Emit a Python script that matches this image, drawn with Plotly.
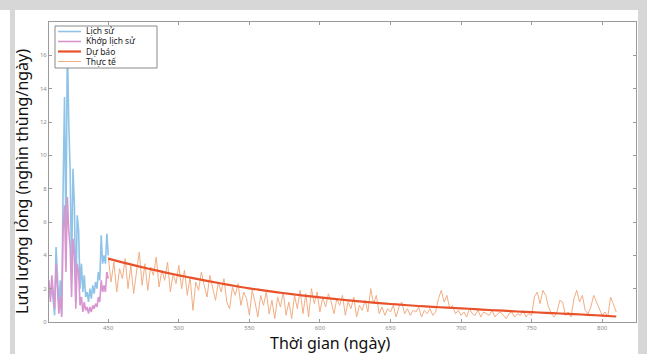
import plotly.graph_objects as go

# ---------------- data ----------------
hist_days = list(range(408, 451))
hist_vals = [2.0, 1.5, 2.2, 1.0, 0.4, 4.5, 3.0, 1.0, 2.5, 0.5,
             8.0, 13.5, 5.0, 17.0, 12.0, 9.0, 3.0, 9.2, 7.0, 1.2,
             6.4, 5.5, 2.0, 3.5, 1.8, 2.8, 1.5, 1.8, 1.2, 2.0,
             1.4, 2.2, 1.7, 2.4, 2.0, 3.0, 2.5, 5.2, 3.5, 4.0,
             3.5, 5.3, 4.0]
fit_vals = [2.5, 1.2, 2.8, 1.5, 0.8, 3.5, 2.0, 0.5, 1.5, 0.3,
            5.5, 7.0, 3.0, 7.5, 5.5, 4.5, 1.5, 5.0, 4.0, 0.8,
            3.5, 3.0, 1.0, 1.5, 0.6, 1.2, 0.7, 0.9, 0.5, 0.9,
            0.6, 1.0, 0.8, 1.1, 0.9, 1.5, 1.2, 2.5, 1.8, 2.2,
            1.8, 3.0, 2.6]

fc_days = list(range(450, 811, 10))
fc_vals = [3.80, 3.58, 3.37, 3.17, 2.98, 2.80, 2.63, 2.47, 2.31, 2.16,
           2.02, 1.90, 1.78, 1.67, 1.57, 1.48, 1.39, 1.30, 1.22, 1.15,
           1.08, 1.02, 0.96, 0.91, 0.86, 0.82, 0.77, 0.72, 0.68, 0.63,
           0.59, 0.55, 0.51, 0.47, 0.43, 0.38, 0.33]

act_days = list(range(450, 811, 2))
act_vals = [3.9, 2.4, 3.6, 1.8, 3.2, 2.6, 3.8, 2.0, 3.4, 1.7,
            3.0, 4.2, 2.2, 3.5, 1.9, 3.3, 2.8, 3.9, 2.1, 3.1,
            2.5, 3.6, 1.8, 2.9, 2.3, 3.4, 2.0, 3.1, 1.6, 2.7,
            0.7, 2.4, 1.9, 3.0, 2.2, 1.5, 2.8, 2.0, 1.3, 2.4,
            1.8, 2.6, 1.2, 0.8, 2.1, 1.6, 2.3, 1.0, 1.8, 1.4,
            0.4, 1.9, 1.2, 0.3, 1.6, 1.0, 1.8, 0.5, 1.3, 0.2,
            1.5, 0.9, 1.8, 0.4, 1.2, 0.2, 1.6, 0.8, 1.9, 0.5,
            1.7, 0.3, 2.0, 1.1, 1.8, 0.6, 1.5, 0.9, 1.7, 1.2,
            0.5, 1.4, 1.0, 1.6, 0.4, 1.2, 0.8, 1.5, 0.3, 1.0,
            0.7, 1.3, 0.6, 2.0, 1.1, 1.6, 0.5, 0.9, 0.4, 0.8,
            0.6, 1.0, 0.3, 0.9, 1.2, 0.5, 0.8, 0.4, 0.7, 0.6,
            0.9, 0.3, 0.7, 0.5, 0.8, 0.4, 0.6, 1.4, 1.9, 1.2,
            1.6, 0.8, 1.0, 0.5, 0.7, 0.4, 0.6, 0.3, 0.8, 0.5,
            0.4, 0.7, 0.3, 0.6, 0.5, 0.4, 0.7, 0.3, 0.5, 0.6,
            0.4, 0.2, 0.5, 0.6, 0.3, 0.5, 0.4, 0.7, 0.3, 0.5,
            0.4, 1.5, 1.8, 1.1, 1.9, 1.6, 0.9, 0.5, 0.3, 0.6,
            1.3, 1.2, 0.4, 0.6, 0.3, 1.4, 1.9, 1.2, 1.6, 0.7,
            0.5, 0.9, 1.6, 1.2, 0.8, 0.4, 0.6, 0.3, 1.5, 1.1,
            0.6]

x_ticks = [450, 500, 550, 600, 650, 700, 750, 800]
y_ticks = [0, 2, 4, 6, 8, 10, 12, 14, 16]
legend_names = ["Lịch sử", "Khớp lịch sử", "Dự báo", "Thực tế"]

C_HIST = "#8fc3e8"
C_FIT = "#d995cf"
C_FC = "#e8512a"
C_ACT = "#f2ae84"

W, H = 655, 354
L, R, T, B = 49, 636, 22, 322


def px(xp):
    return (xp - L) / (R - L)


def py(yp):
    return (B - yp) / (B - T)


fig = go.Figure()
fig.add_trace(go.Scatter(x=act_days, y=act_vals, mode="lines", name=legend_names[3],
                         line=dict(color=C_ACT, width=1)))
fig.add_trace(go.Scatter(x=hist_days, y=hist_vals, mode="lines", name=legend_names[0],
                         line=dict(color=C_HIST, width=1.6)))
fig.add_trace(go.Scatter(x=hist_days, y=fit_vals, mode="lines", name=legend_names[1],
                         line=dict(color=C_FIT, width=1.6)))
fig.add_trace(go.Scatter(x=fc_days, y=fc_vals, mode="lines", name=legend_names[2],
                         line=dict(color=C_FC, width=2.2, shape="spline")))

axis_common = dict(showline=True, linecolor="#9a9a9a", linewidth=1, mirror="ticks",
                   ticks="inside", ticklen=3, tickcolor="#9a9a9a", showgrid=False,
                   zeroline=False, tickfont=dict(size=6, color="#8a8a8a", family="Noto Sans"))

fig.update_layout(
    width=W, height=H, autosize=False,
    margin=dict(l=L, r=W - R, t=T, b=H - B),
    paper_bgcolor="white", plot_bgcolor="white",
    showlegend=False,
    xaxis=dict(range=[408, 824], tickvals=x_ticks, **axis_common),
    yaxis=dict(range=[0, 18], tickvals=y_ticks, **axis_common),
)

shapes = []
gray = "#d7d7d7"
# outer gray frame
shapes.append(dict(type="rect", xref="paper", yref="paper", x0=px(0), x1=px(647),
                   y0=py(0), y1=py(10), fillcolor=gray, line=dict(width=0), layer="below"))
shapes.append(dict(type="rect", xref="paper", yref="paper", x0=px(10), x1=px(15),
                   y0=py(0), y1=py(354), fillcolor=gray, line=dict(width=0), layer="below"))
shapes.append(dict(type="rect", xref="paper", yref="paper", x0=px(638), x1=px(647),
                   y0=py(0), y1=py(354), fillcolor=gray, line=dict(width=0), layer="below"))

# manual legend
shapes.append(dict(type="rect", xref="paper", yref="paper", x0=px(55), x1=px(157),
                   y0=py(26), y1=py(68), fillcolor="white",
                   line=dict(color="#8a8a8a", width=1)))
leg_cols = [C_HIST, C_FIT, C_FC, C_ACT]
leg_w = [1.6, 1.6, 2.2, 1]
leg_y = [31.5, 41.5, 51.5, 61.5]
annotations = []
for name, col, lw, yy in zip(legend_names, leg_cols, leg_w, leg_y):
    shapes.append(dict(type="line", xref="paper", yref="paper", x0=px(58), x1=px(81),
                       y0=py(yy), y1=py(yy), line=dict(color=col, width=lw)))
    annotations.append(dict(xref="paper", yref="paper", x=px(84), y=py(yy), text=name,
                            showarrow=False, xanchor="left", yanchor="middle",
                            font=dict(size=8.5, color="#222", family="Noto Sans")))

annotations.append(dict(xref="paper", yref="paper", x=px(330), y=py(343),
                        text="Thời gian (ngày)", showarrow=False,
                        xanchor="center", yanchor="middle",
                        font=dict(size=16, color="#111", family="Noto Sans")))
annotations.append(dict(xref="paper", yref="paper", x=px(22), y=py(182),
                        text="Lưu lượng lỏng (nghìn thùng/ngày)", showarrow=False,
                        textangle=-90, xanchor="center", yanchor="middle",
                        font=dict(size=16, color="#111", family="Noto Sans")))

fig.update_layout(shapes=shapes, annotations=annotations)
fig.write_html("out.html")
